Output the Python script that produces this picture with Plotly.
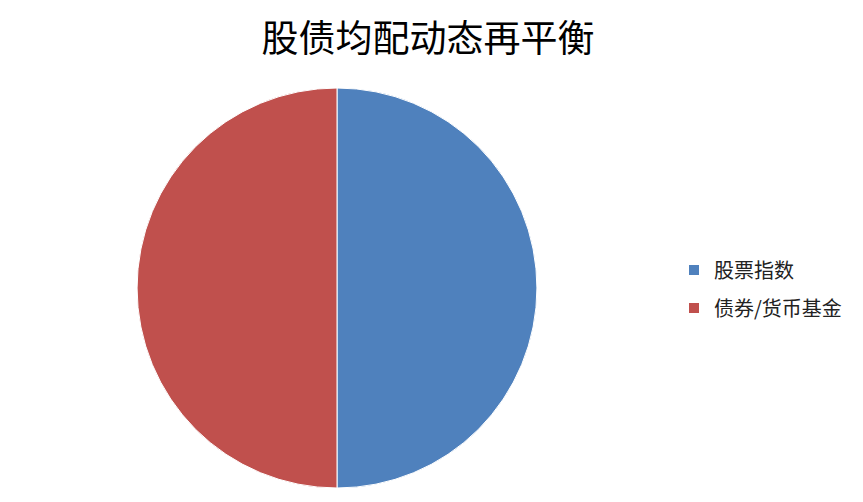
import plotly.graph_objs as go

# data
labels = ['股票指数', '债券/货币基金']
values = [50, 50]
colors = ['#4F81BD', '#C0504D']

W, H = 863, 502
OFF = 8  # page body margin

fig = go.Figure()

fig.add_trace(go.Pie(
    labels=labels,
    values=values,
    sort=False,
    direction='clockwise',
    rotation=0,
    textinfo='none',
    hoverinfo='label+percent',
    marker=dict(colors=colors, line=dict(color='white', width=1)),
    domain=dict(x=[(137 - OFF) / W, (537 - OFF) / W],
                y=[1 - (488 - OFF) / H, 1 - (88 - OFF) / H]),
    showlegend=False,
))

# legend entries (square markers like the original)
for i, (lab, col) in enumerate(zip(labels, colors)):
    fig.add_trace(go.Scatter(
        x=[None], y=[None], mode='markers', name=lab,
        legendgroup='g%d' % i,
        marker=dict(symbol='square', size=10, color=col),
    ))

fig.update_layout(
    width=W, height=H,
    margin=dict(l=0, r=0, t=0, b=0),
    paper_bgcolor='white',
    plot_bgcolor='white',
    font=dict(family='Noto Sans CJK SC', color='#222222'),
    title=dict(text='股债均配动态再平衡', x=420 / W, y=1 - 31 / H,
               xanchor='center', yanchor='middle',
               font=dict(size=37, color='black', family='Noto Sans CJK SC')),
    xaxis=dict(visible=False),
    yaxis=dict(visible=False),
    legend=dict(x=666 / W, y=1 - 281 / H, xanchor='left', yanchor='middle',
                font=dict(size=20), tracegroupgap=9,
                bgcolor='rgba(0,0,0,0)'),
)

fig.write_html('out.html')
